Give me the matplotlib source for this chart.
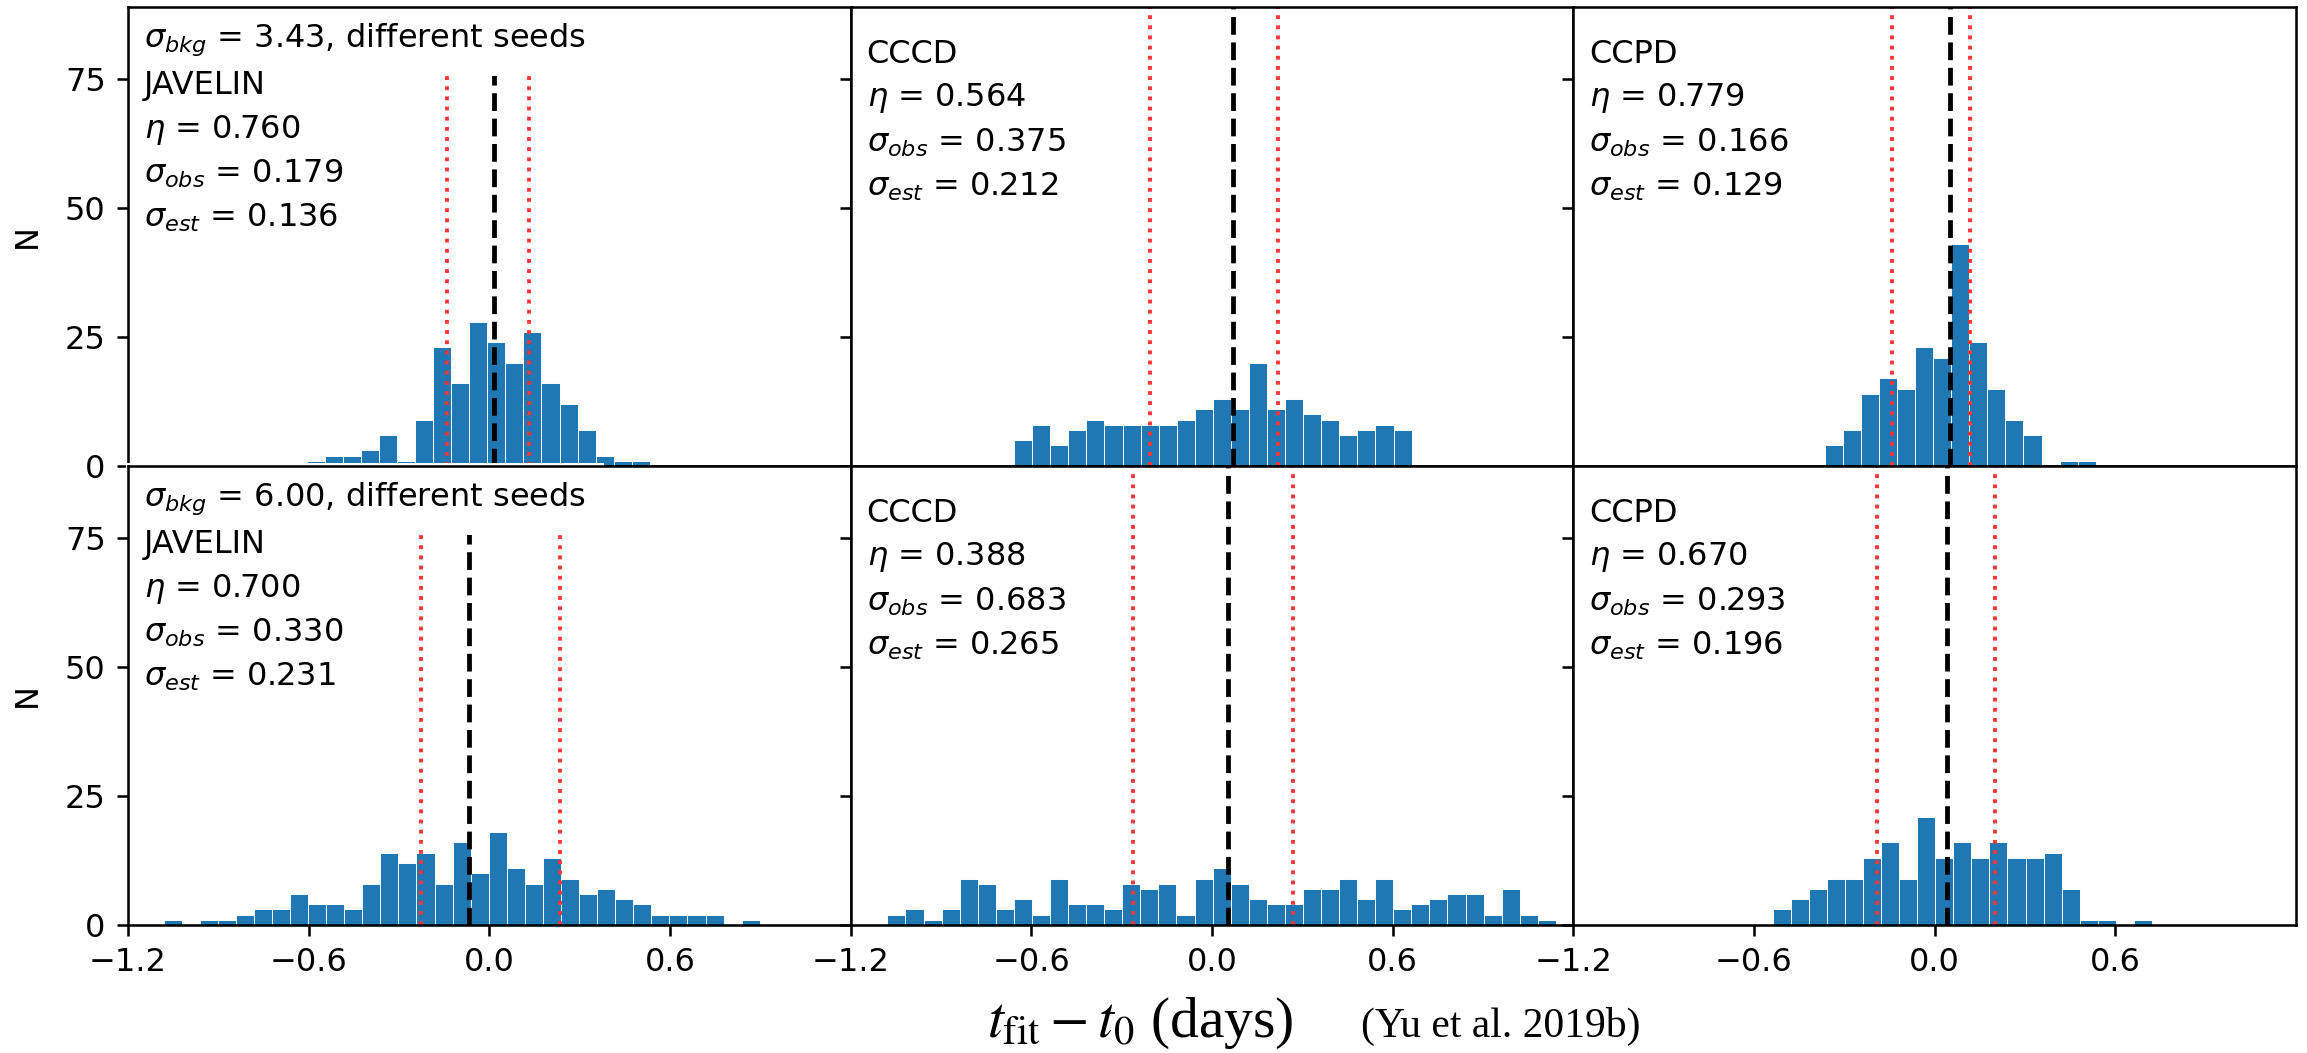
import numpy as np
import matplotlib
matplotlib.use("Agg")
import matplotlib.pyplot as plt

# counts per 0.06-day bin (rows: sigma_bkg 3.43 / 6.00)
bin_width = 0.06

jav_343_start = -0.607
jav_343 = [1, 2, 2, 3, 6, 1, 9, 23, 16, 28, 24, 20, 26, 16, 12, 7, 2, 1, 1]
cccd_343_start = -0.657
cccd_343 = [5, 8, 4, 7, 9, 8, 8, 8, 8, 9, 11, 13, 11, 20, 11, 13, 10, 9, 6, 7, 8, 7]
ccpd_343_start = -0.365
ccpd_343 = [4, 7, 14, 17, 15, 23, 21, 43, 24, 15, 9, 6, 0, 1, 1]

jav_600_start = -1.082
jav_600 = [1, 0, 1, 1, 2, 3, 3, 6, 4, 4, 3, 8, 14, 12, 14, 8, 16, 10, 18, 11, 8,
           13, 9, 6, 7, 5, 4, 2, 2, 2, 2, 0, 1]
cccd_600_start = -1.078
cccd_600 = [2, 3, 1, 3, 9, 8, 3, 5, 2, 9, 4, 4, 3, 8, 7, 8, 2, 9, 11, 8, 5, 4, 4,
            7, 7, 9, 5, 9, 3, 4, 5, 6, 6, 2, 7, 2, 1]
ccpd_600_start = -0.538
ccpd_600 = [3, 5, 7, 9, 9, 13, 16, 9, 21, 13, 16, 13, 16, 13, 13, 14, 7, 1, 1, 0, 1]

# black dashed line and the two red dotted lines of each panel
center_lines = [0.017, 0.069, 0.052, -0.067, 0.054, 0.042]
red_lines = [(-0.140, 0.133), (-0.206, 0.219), (-0.140, 0.119),
             (-0.228, 0.236), (-0.262, 0.270), (-0.192, 0.201)]

methods = ["JAVELIN", "CCCD", "CCPD"]
sigma_bkg = ["3.43", "6.00"]
eta = [["0.760", "0.564", "0.779"], ["0.700", "0.388", "0.670"]]
sigma_obs = [["0.179", "0.375", "0.166"], ["0.330", "0.683", "0.293"]]
sigma_est = [["0.136", "0.212", "0.129"], ["0.231", "0.265", "0.196"]]

counts = [[jav_343, cccd_343, ccpd_343], [jav_600, cccd_600, ccpd_600]]
starts = [[jav_343_start, cccd_343_start, ccpd_343_start],
          [jav_600_start, cccd_600_start, ccpd_600_start]]

dpi = 230
fig, axes = plt.subplots(2, 3, sharex=True, sharey=True,
                         figsize=(2307 / dpi, 1053 / dpi), dpi=dpi)
fig.subplots_adjust(left=0.0555, right=0.9952, top=0.9934, bottom=0.1216,
                    wspace=0, hspace=0)

for r in range(2):
    for c in range(3):
        ax = axes[r, c]
        k = r * 3 + c
        n = counts[r][c]
        left = starts[r][c] + bin_width * np.arange(len(n))
        ax.bar(left, n, width=bin_width, align="edge", color="#1f77b4",
               edgecolor="white", linewidth=0.3)
        ax.axvline(center_lines[k], color="k", ls="--", lw=1.5)
        for xr in red_lines[k]:
            ax.axvline(xr, color="#ff3333", ls=":", lw=1.2)

        stats = "\n".join([r"$\eta$ = " + eta[r][c],
                           r"$\sigma_{obs}$ = " + sigma_obs[r][c],
                           r"$\sigma_{est}$ = " + sigma_est[r][c]])
        if c == 0:
            ax.text(0.022, 0.913, r"$\sigma_{bkg}$ = " + sigma_bkg[r] + ", different seeds",
                    transform=ax.transAxes, va="baseline", ha="left", zorder=2.3,
                    bbox=dict(boxstyle="square,pad=0.55", fc="white", ec="none"))
            ax.text(0.022, 0.862, methods[c] + "\n" + stats, transform=ax.transAxes,
                    va="top", ha="left", linespacing=1.45, zorder=2.4)
            ax.set_ylabel("N", labelpad=7)
        else:
            ax.text(0.022, 0.93, methods[c] + "\n" + stats, transform=ax.transAxes,
                    va="top", ha="left", linespacing=1.45, zorder=2.4)

axes[0, 0].set_xlim(-1.2, 1.2)
axes[0, 0].set_ylim(0, 89)
axes[0, 0].set_xticks([-1.2, -0.6, 0.0, 0.6])
axes[0, 0].set_yticks([0, 25, 50, 75])

fig.text(0.428, 0.015, r"$t_{\rm fit} - t_0$ (days)", family="Liberation Serif",
         math_fontfamily="stix", fontsize=18, va="baseline", ha="left")
fig.text(0.590, 0.015, "(Yu et al. 2019b)", family="Liberation Serif",
         fontsize=13, va="baseline", ha="left")

fig.savefig("out.png", dpi=dpi)
